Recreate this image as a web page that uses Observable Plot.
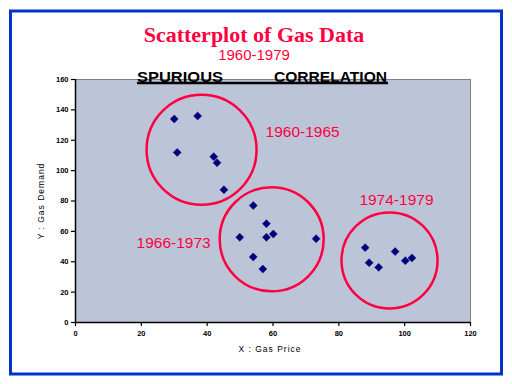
<!DOCTYPE html>
<html>
<head>
<meta charset="utf-8">
<script src="https://cdn.jsdelivr.net/npm/d3@7"></script>
<script src="https://cdn.jsdelivr.net/npm/@observablehq/plot@0.6"></script>
<style>
  html, body { margin: 0; padding: 0; background: #fff; }
  svg { display: block; }
</style>
</head>
<body>
<div id="chart"></div>
<script>
// Gas price (x) vs gas demand (y), 1960-1979
const gasPrice  = [30.0, 37.1, 30.9, 42.0, 43.0, 45.1, 54.0, 58.0, 49.9, 58.0, 60.1, 73.1, 54.0, 56.9, 88.0, 89.2, 92.1, 97.1, 100.2, 102.2];
const gasDemand = [134.0, 136.0, 112.0, 109.2, 105.2, 87.4, 77.0, 65.1, 56.1, 56.1, 58.3, 55.2, 43.2, 35.2, 49.3, 39.4, 36.3, 46.7, 40.7, 42.5];

// Period groupings (circled clusters)
const periodNames   = ["1960-1965", "1966-1973", "1974-1979"];
const periodCenterX = [38.3, 59.6, 95.4];
const periodCenterY = [113.7, 54.8, 40.9];
const periodRadius  = [55, 52, 48];
const periodLabelX  = [69, 29.8, 97.5];
const periodLabelY  = [125.5, 52.5, 80.5];

const xTicks = [0, 20, 40, 60, 80, 100, 120];
const yTicks = [0, 20, 40, 60, 80, 100, 120, 140, 160];

const titleText = "Scatterplot of Gas Data";
const subtitleText = "1960-1979";
const headerWords = ["SPURIOUS", "CORRELATION"];

const points = gasPrice.map((x, i) => ({x, y: gasDemand[i]}));
const periods = periodNames.map((name, i) => ({
  name, cx: periodCenterX[i], cy: periodCenterY[i], r: periodRadius[i],
  lx: periodLabelX[i], ly: periodLabelY[i]
}));

const RED = "#FF0040";
const SANS = "Arial, 'Liberation Sans', sans-serif";
const chart = Plot.plot({
  width: 512,
  height: 384,
  marginLeft: 75,
  marginRight: 42,
  marginTop: 79,
  marginBottom: 62,
  style: {background: "transparent", fontFamily: SANS},
  x: {domain: [0, 120], label: null},
  y: {domain: [0, 160], label: null},
  r: {type: "identity"},
  marks: [
    Plot.frame({fill: "#BCC5D8", stroke: "#808080"}),
    Plot.axisX({ticks: xTicks, tickSize: 4, tickPadding: 4, fontSize: 7.5, fontWeight: "bold", stroke: "#000", strokeWidth: 1.2, tickFormat: d => String(d)}),
    Plot.axisY({ticks: yTicks, tickSize: 4, tickPadding: 3, fontSize: 7.5, fontWeight: "bold", stroke: "#000", strokeWidth: 1.2, tickFormat: d => String(d)}),
    Plot.ruleX([0], {stroke: "#000", strokeWidth: 1.5}),
    Plot.ruleY([0], {stroke: "#000", strokeWidth: 1.5}),
    Plot.dot(periods, {x: "cx", y: "cy", r: "r", stroke: RED, strokeWidth: 2.5, fill: "none"}),
    Plot.dot(points, {x: "x", y: "y", symbol: "diamond2", r: 3.6, fill: "#00007A", stroke: "#00007A", strokeWidth: 0.5}),
    Plot.text(periods, {x: "lx", y: "ly", text: "name", fill: RED, fontSize: 15.5, fontFamily: SANS})
  ]
});

document.getElementById("chart").appendChild(chart);

const svg = d3.select(chart);
// outer blue border
svg.append("rect").attr("x", 10.5).attr("y", 11).attr("width", 491).attr("height", 363)
  .attr("fill", "none").attr("stroke", "#0033CC").attr("stroke-width", 3);
// title
svg.append("text").attr("x", 254).attr("y", 42).attr("text-anchor", "middle")
  .attr("font-family", "'Liberation Serif', 'Times New Roman', serif").attr("font-weight", "bold")
  .attr("font-size", 22).attr("fill", RED).text(titleText);
svg.append("text").attr("x", 254).attr("y", 60).attr("text-anchor", "middle")
  .attr("font-family", SANS)
  .attr("font-size", 15).attr("fill", RED).text(subtitleText);
// header words with underline bar
svg.append("text").attr("x", 137).attr("y", 81.5).attr("text-anchor", "start").attr("font-family", SANS)
  .attr("font-size", 14).attr("font-weight", "bold").attr("textLength", 86).attr("lengthAdjust", "spacingAndGlyphs").attr("fill", "#000").text(headerWords[0]);
svg.append("text").attr("x", 274).attr("y", 81.5).attr("text-anchor", "start").attr("font-family", SANS)
  .attr("font-size", 14).attr("font-weight", "bold").attr("textLength", 113).attr("lengthAdjust", "spacingAndGlyphs").attr("fill", "#000").text(headerWords[1]);
svg.append("line").attr("x1", 137).attr("x2", 388).attr("y1", 83).attr("y2", 83)
  .attr("stroke", "#000").attr("stroke-width", 2.5);
// axis titles
svg.append("text").attr("x", 270).attr("y", 352).attr("text-anchor", "middle")
  .attr("font-family", SANS).attr("font-size", 8.5)
  .attr("letter-spacing", 1).attr("fill", "#000").text("X : Gas Price");
svg.append("text").attr("transform", "translate(44,201) rotate(-90)").attr("text-anchor", "middle")
  .attr("font-family", SANS).attr("font-size", 8.5)
  .attr("letter-spacing", 1).attr("fill", "#000").text("Y : Gas Demand");
</script>
</body>
</html>
